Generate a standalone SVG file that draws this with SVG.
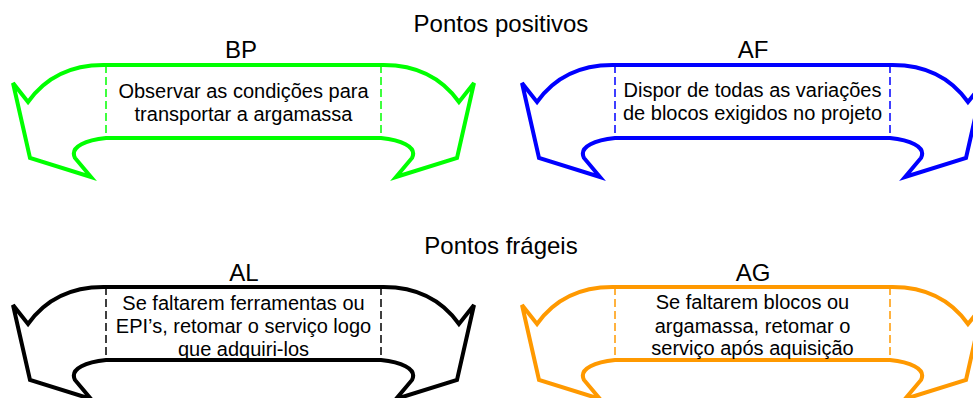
<svg xmlns="http://www.w3.org/2000/svg" width="973" height="398" viewBox="0 0 973 398">
<style>
text{font-family:"Liberation Sans",Arial,sans-serif;fill:#000;text-anchor:middle}
.h{font-size:24px}
.b{font-size:20px}
.arrow{fill:#fff;stroke-width:4;stroke-linejoin:miter}
.dash{fill:none;stroke-width:1.5;stroke-dasharray:8 4}
.green{stroke:#00ff00}
.blue{stroke:#0000ff}
.black{stroke:#000}
.orange{stroke:#ff9900}
</style>
<defs>
<path id="shape" d="M106,65 L381,65 Q432,64 459,102 L474,83 L457,158 L396,177 L412,158 C418,146 399,140 381,138 L106,138 C88,140 69,146 75,158 L91,177 L30,158 L13,83 L28,102 Q55,64 106,65 Z"/>
</defs>
<text class="h" x="501" y="32">Pontos positivos</text>
<text class="h" x="501" y="254">Pontos frágeis</text>
<g id="BP">
<use href="#shape" class="arrow green"/>
<line class="dash green" x1="106" y1="65" x2="106" y2="138"/>
<line class="dash green" x1="381" y1="65" x2="381" y2="138"/>
<text class="h" x="241" y="58">BP</text>
<text class="b" x="243.5" y="97.5">Observar as condições para</text>
<text class="b" x="243.5" y="120.5">transportar a argamassa</text>
</g>
<g id="AF" transform="translate(509,0)">
<use href="#shape" class="arrow blue"/>
<line class="dash blue" x1="106" y1="65" x2="106" y2="138"/>
<line class="dash blue" x1="381" y1="65" x2="381" y2="138"/>
<text class="h" x="244" y="58">AF</text>
<text class="b" x="243.5" y="97">Dispor de todas as variações</text>
<text class="b" x="243.5" y="120">de blocos exigidos no projeto</text>
</g>
<g id="AL" transform="translate(0,222)">
<use href="#shape" class="arrow black"/>
<line class="dash black" x1="106" y1="65" x2="106" y2="138"/>
<line class="dash black" x1="381" y1="65" x2="381" y2="138"/>
<text class="h" x="244" y="59">AL</text>
<text class="b" x="243.5" y="88">Se faltarem ferramentas ou</text>
<text class="b" x="243.5" y="111">EPI’s, retomar o serviço logo</text>
<text class="b" x="243.5" y="133.5">que adquiri-los</text>
</g>
<g id="AG" transform="translate(509,222)">
<use href="#shape" class="arrow orange"/>
<line class="dash orange" x1="106" y1="65" x2="106" y2="138"/>
<line class="dash orange" x1="381" y1="65" x2="381" y2="138"/>
<text class="h" x="244" y="59">AG</text>
<text class="b" x="243.5" y="86.5">Se faltarem blocos ou</text>
<text class="b" x="243.5" y="110.5">argamassa, retomar o</text>
<text class="b" x="243.5" y="133">serviço após aquisição</text>
</g>
</svg>
